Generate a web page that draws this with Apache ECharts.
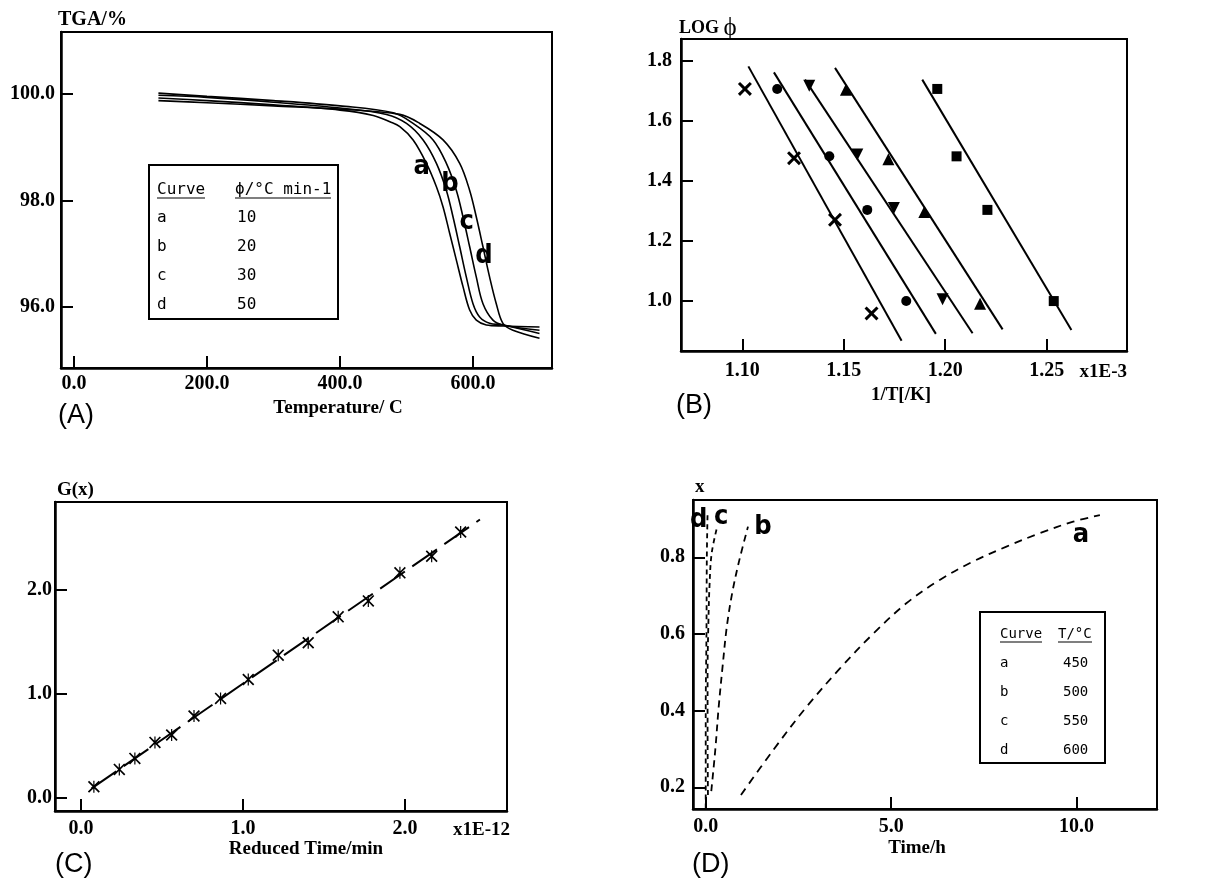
<!DOCTYPE html>
<html><head><meta charset="utf-8">
<script src="https://cdn.jsdelivr.net/npm/echarts@6/dist/echarts.min.js"></script>
<style>html,body{margin:0;padding:0;background:#fff}#c{width:1226px;height:882px}</style>
</head><body><div id="c"></div>
<script>
// ---------- Panel A : TGA curves (temperature °C, TGA %) ----------
const tgaCurveA = [[127,99.93],[200,99.88],[300,99.80],[400,99.70],[450,99.60],[475,99.48],[490,99.39],[510,99.14],[530,98.70],[545,98.26],[555,97.88],[565,97.38],[575,96.88],[585,96.38],[595,95.94],[605,95.75],[620,95.66],[645,95.64],[700,95.62]];
const tgaCurveB = [[127,99.98],[200,99.94],[300,99.85],[400,99.74],[470,99.62],[500,99.45],[525,99.14],[545,98.70],[560,98.19],[570,97.69],[580,97.13],[590,96.56],[600,96.06],[610,95.81],[625,95.69],[645,95.66],[700,95.50]];
const tgaCurveC = [[127,100.02],[200,99.96],[300,99.88],[400,99.78],[480,99.65],[510,99.45],[540,99.14],[560,98.70],[575,98.19],[585,97.69],[595,97.13],[605,96.56],[615,96.06],[630,95.75],[645,95.66],[700,95.56]];
const tgaCurveD = [[127,99.88],[200,99.84],[300,99.78],[400,99.72],[490,99.62],[520,99.45],[555,99.14],[580,98.70],[595,98.19],[605,97.69],[615,97.13],[625,96.56],[635,96.06],[645,95.69],[660,95.56],[700,95.41]];
const tgaLabels = [[522.8,98.63,'a'],[565.4,98.31,'b'],[590.5,97.60,'c'],[616.5,96.95,'d']];
const tgaXTicks = [0,200,400,600];
const tgaYTicks = [96,98,100];
const tgaLegendCurves = ['a','b','c','d'];
const tgaLegendRates = ['10','20','30','50'];

// ---------- Panel B : log(phi) vs 1/T (x1E-3) ----------
const ozX = [[1.1013,1.705],[1.1255,1.475],[1.1457,1.270],[1.1637,0.959]];
const ozCircle = [[1.1172,1.705],[1.1429,1.481],[1.1616,1.303],[1.1808,1.000]];
const ozDown = [[1.1330,1.716],[1.1567,1.487],[1.1747,1.309],[1.1987,1.006]];
const ozUp = [[1.1511,1.702],[1.1720,1.471],[1.1897,1.296],[1.2172,0.991]];
const ozSquare = [[1.1961,1.705],[1.2056,1.481],[1.2208,1.303],[1.2535,1.000]];
const fitX = [[1.1030,1.780],[1.1785,0.868]];
const fitCircle = [[1.1156,1.760],[1.1954,0.891]];
const fitDown = [[1.1309,1.736],[1.2135,0.893]];
const fitUp = [[1.1457,1.775],[1.2283,0.906]];
const fitSquare = [[1.1887,1.736],[1.2622,0.904]];
const ozXTicks = [1.10,1.15,1.20,1.25];
const ozYTicks = [1.0,1.2,1.4,1.6,1.8];

// ---------- Panel C : G(x) vs reduced time (x1E-12) ----------
const gxPoints = [[0.080,0.106],[0.237,0.273],[0.333,0.379],[0.457,0.533],[0.560,0.604],[0.698,0.787],[0.862,0.957],[1.033,1.140],[1.218,1.374],[1.403,1.493],[1.588,1.743],[1.774,1.897],[1.969,2.167],[2.165,2.327],[2.344,2.561]];
const gxFit = [[0.066,0.090],[2.463,2.681]];
const gxXTicks = [0,1,2];
const gxYTicks = [0,1,2];

// ---------- Panel D : conversion x vs time (h) ----------
const isoA = [[0.95,0.18],[1.82,0.297],[2.72,0.41],[3.62,0.51],[4.51,0.60],[5.41,0.68],[6.31,0.741],[7.21,0.789],[8.11,0.828],[9.01,0.863],[9.91,0.893],[10.63,0.91]];
const isoB = [[0.15,0.19],[0.26,0.30],[0.35,0.41],[0.46,0.52],[0.57,0.62],[0.72,0.71],[0.90,0.79],[1.14,0.88]];
const isoC = [[0.06,0.18],[0.05,0.35],[0.05,0.50],[0.07,0.62],[0.10,0.72],[0.16,0.81],[0.31,0.88]];
const isoD = [[0.00,0.145],[0.00,0.40],[0.02,0.60],[0.03,0.80],[0.05,0.915]];
const isoLabels = [[-0.19,0.897,'d'],[0.42,0.906,'c'],[1.54,0.879,'b'],[10.12,0.857,'a']];
const isoXTicks = [0,5,10];
const isoYTicks = [0.2,0.4,0.6,0.8];
const isoLegendCurves = ['a','b','c','d'];
const isoLegendTemps = ['450','500','550','600'];

// ---------- styling helpers ----------
const SERIF = '"Liberation Serif","Times New Roman",serif';
const MONO = '"DejaVu Sans Mono",monospace';
const NARROW = '"Liberation Sans Narrow","DejaVu Sans Condensed",sans-serif';
const XSYM = 'path://M0,3L3,0L10,7L17,0L20,3L13,10L20,17L17,20L10,13L3,20L0,17L7,10Z';
const STAR = 'path://M0,2L2,0L10,8L18,0L20,2L12,10L20,18L18,20L10,12L2,20L0,18L8,10Z M9,0L11,0L11,20L9,20Z';

function axis(gridIndex, min, max, ticks, digits, margin) {
  return {
    type: 'value', gridIndex, min, max, scale: true,
    splitLine: {show: false},
    axisLine: {show: true, onZero: false, lineStyle: {color: '#000', width: 2.5}},
    axisTick: {show: true, inside: true, length: 12, customValues: ticks, lineStyle: {color: '#000', width: 2}},
    axisLabel: {customValues: ticks, formatter: v => Number(v).toFixed(digits), margin,
      color: '#000', fontFamily: SERIF, fontWeight: 'bold', fontSize: 20}
  };
}
function curve(data, xi, dash, width) {
  return {type: 'line', xAxisIndex: xi, yAxisIndex: xi, data, smooth: 0.35, showSymbol: false,
    symbol: 'none', lineStyle: {color: '#000', width: width || 1.6, type: dash || 'solid'}, z: 3};
}
function marks(data, xi, symbol, size, rotate) {
  return {type: 'scatter', xAxisIndex: xi, yAxisIndex: xi, data, symbol, symbolSize: size,
    symbolRotate: rotate || 0, itemStyle: {color: '#000', opacity: 1}, z: 4};
}
function letters(data, xi) {
  return {type: 'scatter', xAxisIndex: xi, yAxisIndex: xi, data, symbolSize: 0.1,
    itemStyle: {color: 'rgba(0,0,0,0)', opacity: 1}, z: 5,
    label: {show: true, position: 'inside', formatter: p => p.data[2], color: '#000', opacity: 1,
      fontFamily: NARROW, fontWeight: 'bold', fontSize: 27}};
}
function txt(x, y, text, font, align) {
  return {type: 'text', x, y, z: 10,
    style: {text, font, fill: '#000', textAlign: align || 'left', textVerticalAlign: 'middle'}};
}
function ln(x1, y1, x2, y2, w) {
  return {type: 'line', z: 10, shape: {x1, y1, x2, y2}, style: {stroke: '#000', lineWidth: w || 1.2}};
}
function box(x, y, w, h) {
  return {type: 'rect', z: 9, shape: {x, y, width: w, height: h}, style: {fill: 'rgba(0,0,0,0)', stroke: '#000', lineWidth: 2}};
}

const labelFont = 'bold 19px ' + SERIF;
const panelFont = '27px "Liberation Sans",Arial,sans-serif';

const graphic = [
  // Panel A texts
  txt(58, 20, 'TGA/%', 'bold 20px ' + SERIF),
  txt(338, 408, 'Temperature/ C', labelFont, 'center'),
  txt(58, 416, '(A)', panelFont),
  box(149, 165, 189, 154),
  txt(157, 190, 'Curve', '16px ' + MONO),
  txt(235, 190, 'ϕ/°C min-1', '16px ' + MONO),
  ln(157, 198, 205, 198), ln(235, 198, 331, 198),
  // Panel B texts
  {type: 'text', x: 679, y: 28, z: 10, style: {text: '{a|LOG }{b|ϕ}', fill: '#000', textAlign: 'left', textVerticalAlign: 'middle',
    rich: {a: {font: 'bold 18px ' + SERIF, fill: '#000'}, b: {font: '25px ' + SERIF, fill: '#000'}}}},
  txt(901, 395, '1/T[/K]', labelFont, 'center'),
  txt(1127, 372, 'x1E-3', labelFont, 'right'),
  txt(676, 406, '(B)', panelFont),
  // Panel C texts
  txt(57, 490, 'G(x)', labelFont),
  txt(306, 849, 'Reduced Time/min', labelFont, 'center'),
  txt(510, 830, 'x1E-12', labelFont, 'right'),
  txt(55, 865, '(C)', panelFont),
  // Panel D texts
  txt(695, 487, 'x', labelFont),
  txt(917, 848, 'Time/h', labelFont, 'center'),
  txt(692, 865, '(D)', panelFont),
  box(980, 612, 125, 151),
  txt(1000, 634, 'Curve', '14px ' + MONO),
  txt(1058, 634, 'T/°C', '14px ' + MONO),
  ln(1000, 642, 1042, 642), ln(1058, 642, 1092, 642)
];
const rowsA = [218, 247, 276, 305];
tgaLegendCurves.forEach((c, i) => { graphic.push(txt(157, rowsA[i], c, '16px ' + MONO)); graphic.push(txt(237, rowsA[i], tgaLegendRates[i], '16px ' + MONO)); });
const rowsD = [663, 692, 721, 750];
isoLegendCurves.forEach((c, i) => { graphic.push(txt(1000, rowsD[i], c, '14px ' + MONO)); graphic.push(txt(1063, rowsD[i], isoLegendTemps[i], '14px ' + MONO)); });

const gridStyle = {show: true, borderColor: '#000', borderWidth: 2, containLabel: false};
const option = {
  animation: false,
  backgroundColor: '#fff',
  grid: [
    Object.assign({left: 61, top: 32, width: 491, height: 336}, gridStyle),
    Object.assign({left: 681, top: 39, width: 446, height: 312}, gridStyle),
    Object.assign({left: 55, top: 502, width: 452, height: 309}, gridStyle),
    Object.assign({left: 693, top: 500, width: 464, height: 309}, gridStyle)
  ],
  xAxis: [
    axis(0, -19.5, 718.8, tgaXTicks, 1, 6),
    axis(1, 1.0698, 1.2896, ozXTicks, 2, 10),
    axis(2, -0.16, 2.63, gxXTicks, 1, 8),
    axis(3, -0.343, 12.17, isoXTicks, 1, 8)
  ],
  yAxis: [
    axis(0, 94.85, 101.17, tgaYTicks, 1, 6),
    axis(1, 0.834, 1.871, ozYTicks, 1, 9),
    axis(2, -0.128, 2.85, gxYTicks, 1, 3),
    axis(3, 0.1434, 0.9495, isoYTicks, 1, 8)
  ],
  graphic,
  series: [
    curve(tgaCurveA, 0), curve(tgaCurveB, 0), curve(tgaCurveC, 0), curve(tgaCurveD, 0),
    letters(tgaLabels, 0),
    {type: 'line', xAxisIndex: 1, yAxisIndex: 1, data: fitX, showSymbol: false, symbol: 'none', lineStyle: {color: '#000', width: 2}},
    {type: 'line', xAxisIndex: 1, yAxisIndex: 1, data: fitCircle, showSymbol: false, symbol: 'none', lineStyle: {color: '#000', width: 2}},
    {type: 'line', xAxisIndex: 1, yAxisIndex: 1, data: fitDown, showSymbol: false, symbol: 'none', lineStyle: {color: '#000', width: 2}},
    {type: 'line', xAxisIndex: 1, yAxisIndex: 1, data: fitUp, showSymbol: false, symbol: 'none', lineStyle: {color: '#000', width: 2}},
    {type: 'line', xAxisIndex: 1, yAxisIndex: 1, data: fitSquare, showSymbol: false, symbol: 'none', lineStyle: {color: '#000', width: 2}},
    marks(ozX, 1, XSYM, 14),
    marks(ozCircle, 1, 'circle', 10),
    marks(ozDown, 1, 'triangle', 12, 180),
    marks(ozUp, 1, 'triangle', 12),
    marks(ozSquare, 1, 'rect', 10),
    {type: 'line', xAxisIndex: 2, yAxisIndex: 2, data: gxFit, showSymbol: false, symbol: 'none', lineStyle: {color: '#000', width: 2, type: [30, 9]}},
    marks(gxPoints, 2, STAR, 12),
    curve(isoA, 3, [8, 6], 1.8), curve(isoB, 3, [7, 5], 1.8), curve(isoC, 3, [5, 4], 1.8), curve(isoD, 3, [5, 4], 1.8),
    letters(isoLabels, 3)
  ]
};
const chart = echarts.init(document.getElementById('c'), null, {renderer: 'canvas'});
chart.setOption(option);
</script></body></html>
